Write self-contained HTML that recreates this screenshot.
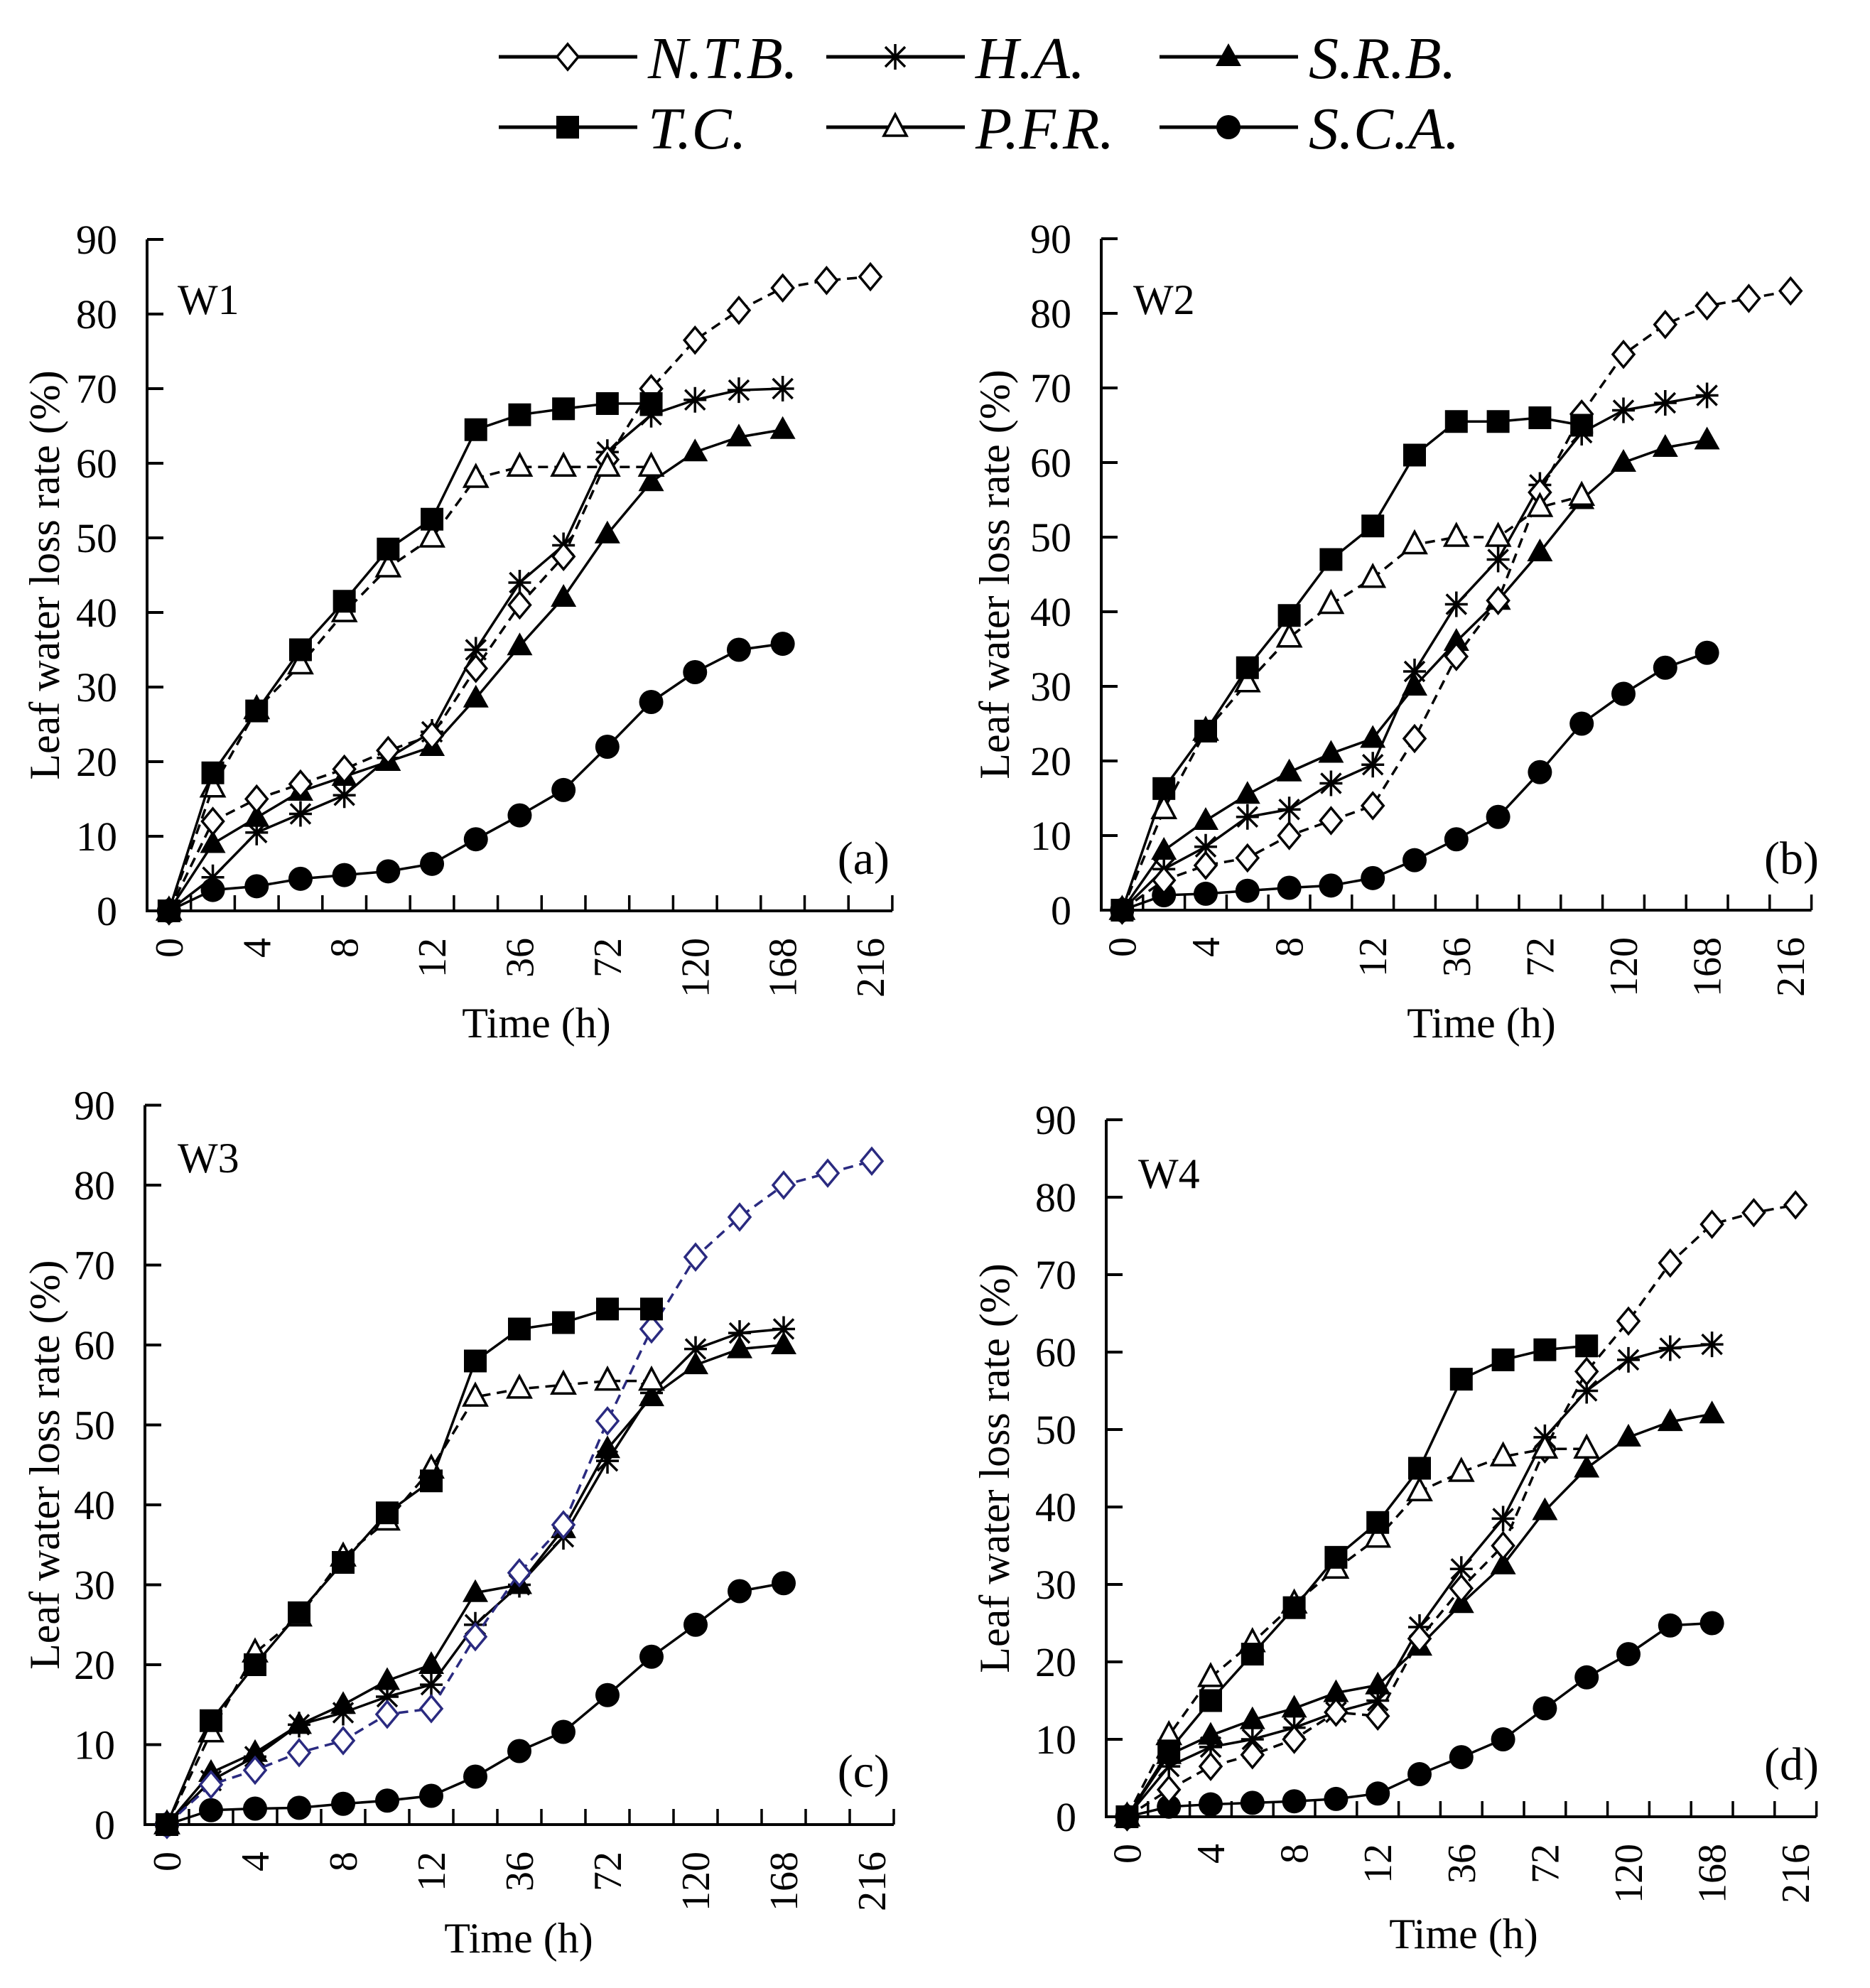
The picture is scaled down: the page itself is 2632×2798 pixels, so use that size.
<!DOCTYPE html>
<html><head><meta charset="utf-8"><style>
html,body{margin:0;padding:0;background:#fff;}
svg{display:block;}
text{font-family:"Liberation Serif",serif;fill:#000;}
</style></head><body>
<svg id="chart" width="2632" height="2798" viewBox="0 0 2632 2798" xmlns="http://www.w3.org/2000/svg"></svg>
<script>
const categories = ["0","2","4","6","8","10","12","24","36","48","72","96","120","144","168","192","216"];
const tickLabels = ["0","4","8","12","36","72","120","168","216"];
const yTicks = [0,10,20,30,40,50,60,70,80,90];
const seriesNames = ["N.T.B.","H.A.","S.R.B.","T.C.","P.F.R.","S.C.A."];

// Panel (a) W1
const a_TC  = [0,18.5,26.8,35,41.5,48.5,52.5,64.5,66.5,67.3,68,68];
const a_PFR = [0,16.5,27,33,40,46,50,58,59.5,59.5,59.5,59.5];
const a_NTB = [0,12,15,17,19,21.5,23.5,32.5,41,47.5,60.5,70,76.5,80.5,83.5,84.5,85];
const a_HA  = [0,4.5,10.5,13,15.5,20.5,24,35,44,49,61.5,66.5,68.5,69.8,70];
const a_SRB = [0,9,12.5,16,18,20,22,28.5,35.5,42,50.5,57.5,61.5,63.5,64.5];
const a_SCA = [0,2.8,3.3,4.3,4.8,5.3,6.3,9.6,12.8,16.2,22,28,32,35,35.8];
// Panel (b) W2
const b_TC  = [0,16.3,24,32.5,39.5,47,51.5,61,65.5,65.5,66,65];
const b_PFR = [0,13.5,24,30.5,36.5,41,44.5,49,50,50,54,55.5];
const b_NTB = [0,4,6,7,10,12,14,23,34,41.5,56,66.5,74.5,78.5,81,82,83];
const b_HA  = [0,5.5,8.5,12.5,13.5,17,19.5,32,41,47,57,64,67,68,69];
const b_SRB = [0,8,12,15.5,18.5,21,23,30,36,41.5,48,55,60,62,63];
const b_SCA = [0,2,2.2,2.6,3,3.3,4.3,6.7,9.5,12.5,18.5,25,29,32.5,34.5];
// Panel (c) W3
const c_TC  = [0,13,20,26.5,32.8,39,43,58,62,62.8,64.5,64.5];
const c_PFR = [0,11.5,21.5,26,33.5,38,44.5,53.5,54.5,55,55.5,55.5];
const c_NTB = [0,5,6.8,9,10.5,13.8,14.5,23.5,31.5,37.5,50.5,62,71,76,80,81.5,83];
const c_HA  = [0,5.5,8.5,12.5,14,16,17.5,25,30,36,45.5,54,59.5,61.5,62];
const c_SRB = [0,6.5,9,12.5,15,18,20,29,30,37,47,53.5,57.5,59.5,60];
const c_SCA = [0,1.8,2,2.1,2.6,3,3.6,6,9.2,11.6,16.2,21,25,29.2,30.2];
// Panel (d) W4
const d_TC  = [0,8.5,15,21,27,33.5,38,45,56.5,59,60.3,60.8];
const d_PFR = [0,10.5,18,22.5,27.5,32,36,42,44.5,46.5,47.5,47.5];
const d_NTB = [0,3.5,6.5,8,10,13.5,13,23,29.5,35,47.5,57.5,64,71.5,76.5,78,79];
const d_HA  = [0,6.5,9,10,11.5,13.5,15,24.5,32,38.5,49,55,59,60.5,61];
const d_SRB = [0,8,10.5,12.5,14,16,17,22,27.5,32.5,39.5,45,49,51,52];
const d_SCA = [0,1.3,1.6,1.8,2,2.3,3,5.5,7.7,10,14,18,21,24.7,25];

const NS="http://www.w3.org/2000/svg";
const svg=document.getElementById('chart');
function mk(tag,attrs,parent){const e=document.createElementNS(NS,tag);for(const k in attrs)e.setAttribute(k,attrs[k]);(parent||svg).appendChild(e);return e;}

function marker(g,type,x,y,color){
  let m;
  if(type==='square'){m=mk('rect',{x:x-16,y:y-16,width:32,height:32,fill:'#000'},g);}
  else if(type==='circle'){m=mk('circle',{cx:x,cy:y,r:17,fill:'#000'},g);}
  else if(type==='tri'){m=mk('polygon',{points:`${x},${y-19} ${x-18},${y+13} ${x+18},${y+13}`,fill:'#000'},g);}
  else if(type==='otri'){m=mk('polygon',{points:`${x},${y-18} ${x-16},${y+12} ${x+16},${y+12}`,fill:'#fff',stroke:'#000','stroke-width':3.5},g);}
  else if(type==='diamond'){m=mk('polygon',{points:`${x},${y-18} ${x+15},${y} ${x},${y+18} ${x-15},${y}`,fill:'#fff',stroke:color,'stroke-width':3.5},g);}
  else if(type==='star'){m=mk('path',{d:`M${x-14},${y-14}L${x+14},${y+14}M${x+14},${y-14}L${x-14},${y+14}M${x},${y-18}L${x},${y+18}M${x-16},${y}L${x+16},${y}`,stroke:'#000','stroke-width':3.5,fill:'none'},g);}
  return m;
}

const panels=[
 {id:'a',w:'W1',x0:207,band:61.7,y0:1282,ppu:10.5,yl:63,tx:755,ty:1460,wx:250,wy:442,lx:1252,ly:1230,
  data:{NTB:a_NTB,HA:a_HA,SRB:a_SRB,TC:a_TC,PFR:a_PFR,SCA:a_SCA},ntbColor:'#000'},
 {id:'b',w:'W2',x0:1550,band:58.8,y0:1281,ppu:10.5,yl:1400,tx:2085,ty:1460,wx:1595,wy:442,lx:2560,ly:1230,
  data:{NTB:b_NTB,HA:b_HA,SRB:b_SRB,TC:b_TC,PFR:b_PFR,SCA:b_SCA},ntbColor:'#000'},
 {id:'c',w:'W3',x0:204,band:62,y0:2568,ppu:11.25,yl:63,tx:730,ty:2748,wx:250,wy:1650,lx:1252,ly:2515,
  data:{NTB:c_NTB,HA:c_HA,SRB:c_SRB,TC:c_TC,PFR:c_PFR,SCA:c_SCA},ntbColor:'#2a2a80'},
 {id:'d',w:'W4',x0:1557,band:58.8,y0:2557,ppu:10.9,yl:1400,tx:2060,ty:2742,wx:1602,wy:1672,lx:2560,ly:2505,
  data:{NTB:d_NTB,HA:d_HA,SRB:d_SRB,TC:d_TC,PFR:d_PFR,SCA:d_SCA},ntbColor:'#000'}
];
const styles={
 TC:{mk:'square',dash:null},
 PFR:{mk:'otri',dash:'14 9'},
 NTB:{mk:'diamond',dash:'14 9'},
 HA:{mk:'star',dash:null},
 SRB:{mk:'tri',dash:null},
 SCA:{mk:'circle',dash:null}
};
const drawOrder=['SCA','SRB','HA','NTB','PFR','TC'];

panels.forEach(p=>{
  const g=mk('g',{});
  
  
  const xEnd=p.x0+p.band*categories.length;
  const yTop=p.y0-90*p.ppu;
  const X=i=>p.x0+p.band*(i+0.5);
  const Y=v=>p.y0-v*p.ppu;
  const ax=mk('path',{d:`M${p.x0},${yTop}L${p.x0},${p.y0}L${xEnd},${p.y0}`,stroke:'#000','stroke-width':4,fill:'none'},g);
  
  
  yTicks.forEach(t=>{
    mk('line',{x1:p.x0,x2:p.x0+23,y1:Y(t),y2:Y(t),stroke:'#000','stroke-width':4},g);
    const tl=mk('text',{x:p.x0-42,y:Y(t)+20,'text-anchor':'end','font-size':58},g);
    tl.textContent=t;
    
    
  });
  for(let i=1;i<=categories.length;i++){
    const xx=p.x0+p.band*i;
    mk('line',{x1:xx,x2:xx,y1:p.y0,y2:p.y0-22,stroke:'#000','stroke-width':3.5},g);
  }
  categories.forEach((c,i)=>{
    if(tickLabels.indexOf(c)<0)return;
    const xx=X(i)+19, yy=p.y0+38;
    const tl=mk('text',{x:xx,y:yy,'text-anchor':'end','font-size':56,transform:`rotate(-90 ${xx} ${yy})`},g);
    tl.textContent=c;
    
    
  });
  const xt=mk('text',{x:p.tx,y:p.ty,'text-anchor':'middle','font-size':60},g);
  xt.textContent='Time (h)';
  
  
  const yc=(yTop+p.y0)/2;
  const yt=mk('text',{x:p.yl+20,y:yc,'text-anchor':'middle','font-size':60,transform:`rotate(-90 ${p.yl+20} ${yc})`},g);
  yt.textContent='Leaf water loss rate (%)';
  
  
  const wl=mk('text',{x:p.wx,y:p.wy,'font-size':60},g);
  wl.textContent=p.w;
  
  
  const pl=mk('text',{x:p.lx,y:p.ly,'text-anchor':'end','font-size':66},g);
  pl.textContent='('+p.id+')';
  
  
  drawOrder.forEach(k=>{
    const vals=p.data[k];const st=styles[k];
    const col=(k==='NTB')?p.ntbColor:'#000';
    const sg=mk('g',{},g);
    
    
    const pts=vals.map((v,i)=>X(i)+','+Y(v)).join(' ');
    const attrs={points:pts,fill:'none',stroke:col,'stroke-width':3.5};
    if(st.dash)attrs['stroke-dasharray']=st.dash;
    mk('polyline',attrs,sg);
    vals.forEach((v,i)=>{
      const m=marker(sg,st.mk,X(i),Y(v),col);
      
      
    });
  });
});

const leg=mk('g',{});


const legKeys=['NTB','HA','SRB','TC','PFR','SCA'];
const legX=[702,1163,1632];const legY=[80,179];
legKeys.forEach((k,i)=>{
  const lx=legX[i%3], ly=legY[Math.floor(i/3)];
  const eg=mk('g',{},leg);
  
  
  mk('line',{x1:lx,x2:lx+195,y1:ly,y2:ly,stroke:'#000','stroke-width':5},eg);
  marker(eg,styles[k].mk,lx+97,ly,'#000');
  const t=mk('text',{x:lx+210,y:ly+30,'font-size':84,'font-style':'italic'},eg);
  t.textContent=seriesNames[i];
});
</script>
</body></html>
